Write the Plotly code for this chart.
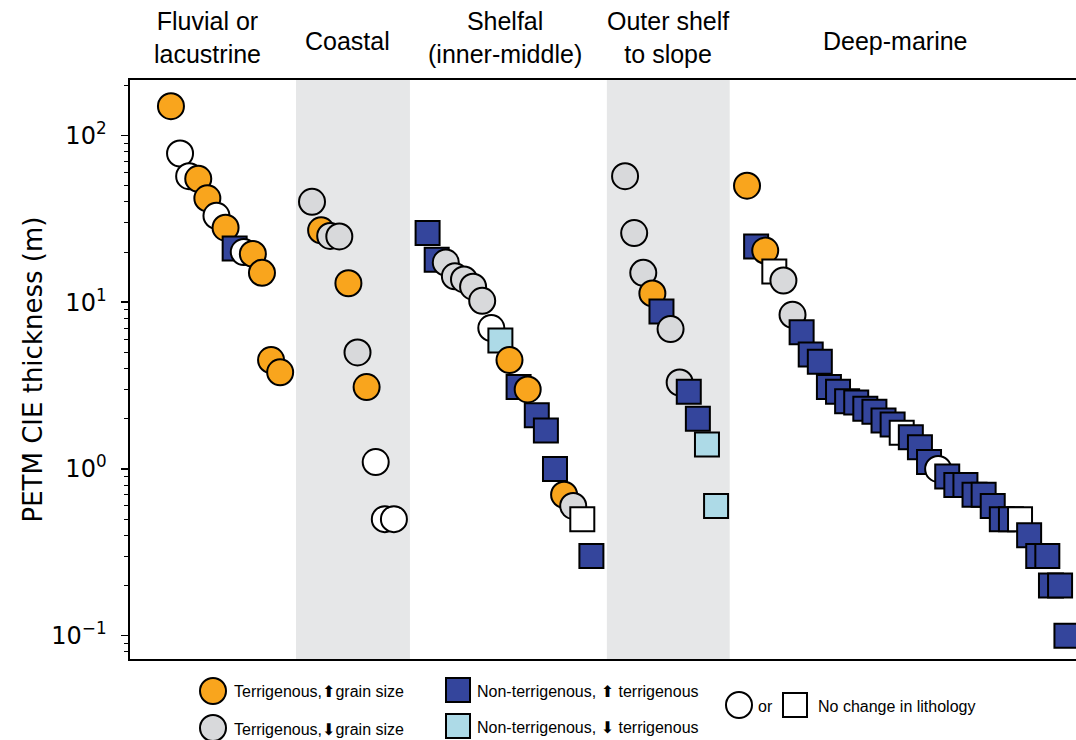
import plotly.graph_objects as go

W, H = 1076, 740

# ---------------- data ----------------
# type codes: TU terrigenous coarser, TD terrigenous finer,
# NU non-terr. more terrigenous, ND non-terr. less terrigenous,
# NC no change (circle), NS no change (square)
fluvial_pos = [1, 2, 3, 4, 5, 6, 7, 8, 9, 10, 11, 12, 13]
fluvial_thk = [150, 78, 57, 55, 42, 33, 28, 21, 20, 19.5, 15, 4.5, 3.8]
fluvial_typ = ["TU", "NC", "NC", "TU", "TU", "NC", "TU", "NU", "NC", "TU", "TU", "TU", "TU"]

coastal_pos = [16.5, 17.5, 18.5, 19.5, 20.5, 21.5, 22.5, 23.5, 24.5, 25.5]
coastal_thk = [40, 27, 25, 24.8, 13, 5, 3.1, 1.1, 0.5, 0.5]
coastal_typ = ["TD", "TU", "TD", "TD", "TU", "TD", "TU", "NC", "NC", "NC"]

shelf_pos = [29.2, 30.2, 31.2, 32.2, 33.2, 34.2, 35.2, 36.2, 37.2, 38.2,
             39.2, 40.2, 41.2, 42.2, 43.2, 44.2, 45.2, 46.2, 47.2]
shelf_thk = [26, 18, 17.3, 14.3, 13.7, 12.4, 10.2, 7, 5.9, 4.5,
             3.1, 3.0, 2.1, 1.7, 1.0, 0.7, 0.6, 0.5, 0.3]
shelf_typ = ["NU", "NU", "TD", "TD", "TD", "TD", "TD", "NC", "ND", "TU",
             "NU", "TU", "NU", "NU", "NU", "TU", "TD", "NS", "NU"]

outer_pos = [50.9, 51.9, 52.9, 53.9, 54.9, 55.9, 56.9, 57.9, 58.9, 59.9, 60.9]
outer_thk = [57, 26, 15, 11.3, 8.8, 6.9, 3.3, 2.9, 2.0, 1.4, 0.6]
outer_typ = ["TD", "TD", "TD", "TU", "NU", "TD", "TD", "NU", "NU", "ND", "ND"]

deep_pos = [64.3, 65.3, 66.3, 67.3, 68.3, 69.3, 70.3, 71.3, 72.3, 73.3,
            74.3, 75.3, 76.3, 77.3, 78.3, 79.3, 80.3, 81.3, 82.3, 83.3,
            84.3, 85.3, 86.3, 87.3, 88.3, 89.3, 90.3, 91.3, 92.3, 93.3,
            94.3, 95.3, 96.3, 97.3, 97.7, 98.7, 99.4]
deep_thk = [50, 21.6, 20.4, 15.3, 13.5, 8.4, 6.6, 4.85, 4.4, 3.1,
            2.9, 2.55, 2.5, 2.3, 2.2, 1.95, 1.85, 1.65, 1.55, 1.35,
            1.1, 1.0, 0.9, 0.8, 0.8, 0.7, 0.7, 0.6, 0.5, 0.5,
            0.5, 0.4, 0.3, 0.3, 0.2, 0.2, 0.1]
deep_typ = ["TU", "NU", "TU", "NS", "TD", "TD", "NU", "NU", "NU", "NU",
            "NU", "NU", "NU", "NU", "NU", "NU", "NU", "NS", "NU", "NU",
            "NU", "NC", "NU", "NU", "NU", "NU", "NU", "NU", "NU", "NU",
            "NS", "NU", "NU", "NU", "NU", "NU", "NU"]

group_labels = ["Fluvial or<br>lacustrine", "Coastal", "Shelfal<br>(inner-middle)",
                "Outer shelf<br>to slope", "Deep-marine"]
shaded_bands = [(14.74, 27.26), (48.9, 62.4)]

y_tick_vals = [0.1, 1, 10, 100]
y_tick_text = ["10<sup>\u22121</sup>", "10<sup>0</sup>", "10<sup>1</sup>", "10<sup>2</sup>"]

UP = "<span style='font-family:DejaVu Sans'>\u2B06</span>"
DOWN = "<span style='font-family:DejaVu Sans'>\u2B07</span>"
legend_items = [
    ("TU", "Terrigenous," + UP + "grain size"),
    ("TD", "Terrigenous," + DOWN + "grain size"),
    ("NU", "Non-terrigenous, " + UP + " terrigenous"),
    ("ND", "Non-terrigenous, " + DOWN + " terrigenous"),
]

# ---------------- styles ----------------
ORANGE = "#F9A51D"
GRAY = "#D8D9DB"
BLUE = "#34459C"
LBLUE = "#ADDAE7"
WHITE = "#FFFFFF"
BAND = "#E6E7E8"
STYLE = {
    "TU": ("circle", ORANGE, 26),
    "TD": ("circle", GRAY, 26),
    "NU": ("square", BLUE, 24),
    "ND": ("square", LBLUE, 24),
    "NC": ("circle", WHITE, 26),
    "NS": ("square", WHITE, 24),
}

xs = fluvial_pos + coastal_pos + shelf_pos + outer_pos + deep_pos
ys = fluvial_thk + coastal_thk + shelf_thk + outer_thk + deep_thk
ts = fluvial_typ + coastal_typ + shelf_typ + outer_typ + deep_typ

fig = go.Figure()
fig.add_trace(go.Scatter(
    x=xs, y=ys, mode="markers",
    marker=dict(symbol=[STYLE[t][0] for t in ts],
                color=[STYLE[t][1] for t in ts],
                size=[STYLE[t][2] for t in ts],
                line=dict(color="black", width=2),
                opacity=1),
    showlegend=False, hoverinfo="skip", cliponaxis=True,
))

# plot area in pixels
L, R, T, B = 130, W, 80, 659

for x0, x1 in shaded_bands:
    fig.add_shape(type="rect", xref="x", yref="y domain", x0=x0, x1=x1, y0=0, y1=1,
                  fillcolor=BAND, line=dict(width=0), layer="below")

def px(x):
    return x / W

def py(y):
    return 1 - y / H

label_px = [(207, 37.5), (347, 41), (505, 37.5), (668, 37.5), (895, 41)]
for txt, (lx, ly) in zip(group_labels, label_px):
    fig.add_annotation(text=txt, x=px(lx), y=py(ly), xref="paper", yref="paper",
                       showarrow=False, xanchor="center", yanchor="middle",
                       font=dict(family="Liberation Sans, Arial", size=25, color="black"))

fig.add_annotation(text="PETM CIE thickness (m)", x=px(32), y=py((T + B) / 2),
                   xref="paper", yref="paper", showarrow=False, textangle=-90,
                   xanchor="center", yanchor="middle",
                   font=dict(family="DejaVu Sans", size=26, color="black"))

# legend (custom layout)
LEG_FONT = dict(family="Liberation Sans, Arial", size=16, color="black")
leg_marker_px = [(213, 691), (213, 728), (458, 690), (458, 726)]
leg_text_px = [(232, 691.5), (232, 729), (475, 691.5), (475, 727.5)]
lx_, ly_, lsym, lcol, lsz = [], [], [], [], []
for (code, txt), (mx, my), (tx, ty) in zip(legend_items, leg_marker_px, leg_text_px):
    s, c, z = STYLE[code]
    lx_.append(mx); ly_.append(my); lsym.append(s); lcol.append(c); lsz.append(z)
    fig.add_annotation(text=txt, x=px(tx), y=py(ty), xref="paper", yref="paper",
                       showarrow=False, xanchor="left", yanchor="middle", font=LEG_FONT)
for code, (mx, my) in zip(["NC", "NS"], [(739, 705), (795, 705)]):
    s, c, z = STYLE[code]
    lx_.append(mx); ly_.append(my); lsym.append(s); lcol.append(c); lsz.append(z)
fig.add_annotation(text="or", x=px(756), y=py(706), xref="paper", yref="paper",
                   showarrow=False, xanchor="left", yanchor="middle", font=LEG_FONT)
fig.add_annotation(text="No change in lithology", x=px(816), y=py(706), xref="paper", yref="paper",
                   showarrow=False, xanchor="left", yanchor="middle", font=LEG_FONT)

fig.add_trace(go.Scatter(
    x=lx_, y=ly_, xaxis="x2", yaxis="y2", mode="markers",
    marker=dict(symbol=lsym, color=lcol, size=lsz, opacity=1,
                line=dict(color="black", width=2)),
    showlegend=False, hoverinfo="skip", cliponaxis=False,
))

minor_vals = [m * d for d in [0.01, 0.1, 1, 10, 100] for m in range(2, 10)]

fig.update_layout(
    width=W, height=H,
    margin=dict(l=0, r=0, t=0, b=0, pad=0),
    paper_bgcolor="white", plot_bgcolor="rgba(0,0,0,0)",
    showlegend=False,
    xaxis=dict(domain=[L / W, 1], range=[-3.5, 100.45], showline=True, mirror=True,
               linecolor="black", linewidth=1.6, showgrid=False, zeroline=False,
               showticklabels=False, ticks="", automargin=False, fixedrange=True),
    yaxis=dict(domain=[1 - B / H, 1 - T / H], type="log", range=[-1.140, 2.333],
               showline=True, mirror=False, linecolor="black", linewidth=1.6,
               showgrid=False, zeroline=False, ticks="outside", ticklen=7, tickwidth=1.5,
               tickcolor="black", tickvals=y_tick_vals, ticktext=y_tick_text,
               ticklabelstandoff=10,
               tickfont=dict(family="DejaVu Sans", size=24, color="black"),
               minor=dict(ticks="outside", ticklen=4, tickwidth=1, tickcolor="black",
                          tickvals=minor_vals, showgrid=False),
               automargin=False, fixedrange=True),
    xaxis2=dict(domain=[0, 1], range=[0, W], visible=False, anchor="y2", fixedrange=True),
    yaxis2=dict(domain=[0, 1], range=[H, 0], visible=False, anchor="x2", fixedrange=True),
)

fig.write_html("out.html",
               config={"staticPlot": True},
               post_script="document.body.style.margin='0';document.body.style.overflow='hidden';")
